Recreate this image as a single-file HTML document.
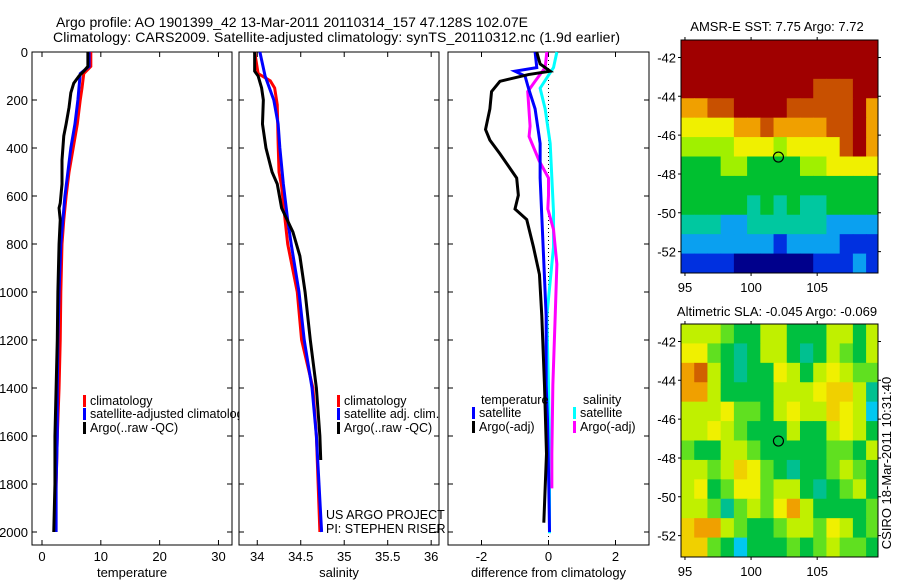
<!DOCTYPE html>
<html><head><meta charset="utf-8"><style>
body{margin:0;background:#fff}
svg{display:block;font-family:"Liberation Sans",sans-serif}
</style></head><body>
<svg id="fig" width="900" height="580" viewBox="0 0 900 580" xmlns="http://www.w3.org/2000/svg">
<defs>
<clipPath id="c1"><rect x="32" y="52" width="207" height="493"/></clipPath>
<clipPath id="cm1"><rect x="681" y="40" width="197" height="233"/></clipPath>
<clipPath id="cm2"><rect x="681" y="324" width="197" height="233"/></clipPath>
</defs>
<text x="56" y="27" font-size="14">Argo profile: AO 1901399_42 13-Mar-2011 20110314_157 47.128S 102.07E</text>
<text x="53" y="42" font-size="14" textLength="567">Climatology: CARS2009. Satellite-adjusted climatology: synTS_20110312.nc (1.9d earlier)</text>
<text x="777" y="31" font-size="13" text-anchor="middle">AMSR-E SST: 7.75 Argo: 7.72</text>
<text x="777" y="316" font-size="13" text-anchor="middle">Altimetric SLA: -0.045 Argo: -0.069</text>
<text transform="translate(891,463) rotate(-90)" font-size="13" text-anchor="middle">CSIRO 18-Mar-2011 10:31:40</text>
<g id="g"></g>
</svg>
<script>
// ---- depths (m) and profile data ----
const tClimD=[0,60,90,150,200,300,400,500,600,700,800,1000,1200,1400,1600,1800,2000];
const tClimV=[8.3,8.3,7.1,6.8,6.5,6.0,5.3,4.6,4.1,3.7,3.4,3.2,3.1,2.9,2.6,2.4,2.2];
const tSatD=[0,60,90,200,300,400,500,600,800,1000,1200,1400,1600,1800,2000];
const tSatV=[8.0,8.0,6.5,6.1,5.6,4.9,4.4,3.9,3.2,2.9,2.7,2.6,2.6,2.4,2.4];
const tArgD=[0,60,80,100,130,170,230,300,350,450,550,630,650,700,800,1000,1200,1400,1600,1800,2000];
const tArgV=[7.8,7.8,7.1,6.3,5.4,4.9,4.6,4.1,3.7,3.4,3.4,3.1,2.9,3.1,2.9,2.7,2.6,2.4,2.2,2.2,2.0];
const sClimD=[0,90,120,150,220,380,500,560,700,800,1000,1200,1400,1600,1800,2000];
const sClimV=[33.97,34.01,34.15,34.2,34.23,34.24,34.25,34.28,34.32,34.35,34.46,34.51,34.64,34.68,34.70,34.72];
const sSatD=[0,100,200,300,400,550,700,800,1000,1200,1400,1600,1800,2000];
const sSatV=[34.03,34.09,34.19,34.24,34.26,34.30,34.35,34.39,34.48,34.54,34.63,34.68,34.71,34.74];
const sArgD=[0,80,100,150,200,300,400,500,550,650,750,850,1000,1200,1400,1600,1700];
const sArgV=[33.97,33.97,34.01,34.05,34.07,34.06,34.10,34.17,34.23,34.28,34.41,34.49,34.55,34.61,34.68,34.72,34.73];
const dTSatD=[0,65,80,100,150,237,381,525,812,1100,1387,1530,1818,2000];
const dTSatV=[-0.4,-0.35,-1.0,-0.7,-0.6,-0.4,-0.25,-0.25,-0.16,-0.07,-0.07,-0.03,0.01,0.03];
const dTArgD=[0,50,80,94,122,165,237,323,367,424,525,597,654,698,812,927,1100,1387,1674,1961];
const dTArgV=[-0.35,-0.25,0.05,-0.6,-1.45,-1.7,-1.75,-1.88,-1.75,-1.45,-0.95,-0.9,-1.0,-0.65,-0.45,-0.27,-0.2,-0.12,-0.06,-0.14];
const dSSatD=[0,65,151,237,381,668,812,956,1100,1387,1674,2005];
const dSSatV=[0.25,0.15,-0.25,-0.1,0.05,0.15,0.15,0.05,-0.05,0,0.03,0.03];
const dSArgD=[0,65,122,165,309,352,453,525,597,654,740,884,1100,1387,1674,1818];
const dSArgV=[-0.05,-0.1,-0.4,-0.62,-0.55,-0.58,-0.28,0,0,-0.02,0.15,0.25,0.2,0.13,0.1,0.1];
const depthTicks=[0,200,400,600,800,1000,1200,1400,1600,1800,2000];
const tTicks=[0,10,20,30];
const sTicks=[34,34.5,35,35.5,36];
const sTickLabels=["34","34.5","35","35.5","36"];
const dTicks=[-2,0,2];
const latTicks=[-42,-44,-46,-48,-50,-52];
const lonTicks=[95,100,105];
// map grids: rows from -41.1 (top) in 1deg steps, cols from 94.7 in 1deg steps
const sstGrid=[
[9,9,9,9,9,9,9,9,9,9,9,9,9,9,9],
[9,9,9,9,9,9,9,9,9,9,9,9,9,9,9],
[9,9,9,9,9,9,9,9,9,9,8,8,8,9,9],
[7,7,8,8,9,9,9,9,8,8,8,8,8,9,7],
[6,6,6,6,7,7,8,7,7,7,7,8,8,9,7],
[5,5,5,5,6,6,6,5,6,6,6,6,8,9,7],
[4,4,4,5,5,4,4,4,4,5,5,6,6,6,6],
[4,4,4,4,4,4,4,4,4,4,4,4,4,4,4],
[4,4,4,4,4,3,4,3,4,3,3,4,4,4,4],
[3,3,3,2,2,3,3,3,3,3,3,2,2,2,2],
[2,2,2,2,2,2,2,1,2,2,2,2,1,1,1],
[1,1,1,1,0,0,0,0,0,0,1,1,1,2,1]];
const slaGrid=[
[4,4,4,3,2,2,4,4,2,2,2,4,4,2,4],
[5,5,3,2,1,2,4,4,2,1,2,4,3,2,4],
[7,8,4,2,1,2,2,5,4,2,4,5,4,3,3],
[7,7,4,2,2,2,2,4,4,4,5,6,6,4,1],
[4,4,4,5,3,3,2,4,5,4,4,6,5,4,0],
[4,4,5,4,3,2,2,2,4,2,2,4,5,4,2],
[3,2,2,4,4,3,2,2,2,2,2,3,3,2,4],
[4,4,3,4,6,5,3,2,1,2,2,3,4,3,2],
[4,5,2,3,5,5,3,4,4,2,1,2,3,4,2],
[4,4,3,1,3,4,3,5,7,4,2,2,2,2,3],
[6,7,7,4,3,2,2,3,4,4,3,5,4,2,3],
[6,6,3,2,0,2,2,2,3,2,3,4,3,3,2]];
const sstPal=["#00008c","#0030e0","#0aa0f0","#00c8a0","#00c030","#a0f000","#f0f000","#f0a000","#c85000","#a00000"];
const slaPal=["#00c8f0","#00c090","#00c040","#60e020","#c0f000","#f0f000","#f0d000","#f0a000","#d06000"];
const argoLon=102.07, argoLat=-47.128;

const NS="http://www.w3.org/2000/svg";
const G=document.getElementById('g');
function mk(tag,at,parent){const e=document.createElementNS(NS,tag);for(const k in at)e.setAttribute(k,at[k]);(parent||G).appendChild(e);return e;}
const yD=d=>52+d*0.24;
function panel(name,x0,x1,xmin,xmax,ticks,labels,xlabel,showDepth){
  const sx=v=>x0+(v-xmin)/(xmax-xmin)*(x1-x0);
  const fr=mk('rect',{x:x0,y:52,width:x1-x0,height:493,fill:'none',stroke:'#000','stroke-width':1});
  
  
  depthTicks.forEach(d=>{
    const y=yD(d);
    const t=mk('path',{d:`M${x0},${y}h5M${x1},${y}h-5`,stroke:'#000'});
    
    
    if(showDepth){const l=mk('text',{x:x0-4,y:y+5,'font-size':13,'text-anchor':'end'});l.textContent=d;
      
      }
  });
  ticks.forEach((v,i)=>{
    const x=sx(v);
    const t=mk('path',{d:`M${x},52v5M${x},545v-5`,stroke:'#000'});
    
    
    const l=mk('text',{x:x,y:561,'font-size':13,'text-anchor':'middle'});l.textContent=labels[i];
    
    
  });
  const xl=mk('text',{x:(x0+x1)/2,y:577,'font-size':13,'text-anchor':'middle'});xl.textContent=xlabel;
  
  
  return sx;
}
function line(sx,D,V,color,name){
  const p=mk('polyline',{points:D.map((d,i)=>sx(V[i])+','+yD(d)).join(' '),fill:'none',stroke:color,'stroke-width':3,'stroke-linejoin':'miter'});
  
  
}
function legend(x,y,color,text,clip,name){
  const r=mk('rect',{x:x,y:y-10,width:3,height:12,fill:color});
  
  
  const t=mk('text',{x:x+7,y:y,'font-size':12.5});t.textContent=text;
  if(clip)t.setAttribute('clip-path','url(#c1)');
  
  
}
// panel 1 temperature
const sx1=panel('temperature-panel',32,232,-1.7,32.3,tTicks,tTicks.map(String),'temperature',true);
line(sx1,tClimD,tClimV,'#f00','temp-climatology-line');
line(sx1,tSatD,tSatV,'#00f','temp-satellite-line');
line(sx1,tArgD,tArgV,'#000','temp-argo-line');
legend(83,405,'#f00','climatology',false,'legend-climatology');
legend(83,418,'#00f','satellite-adjusted climatology',true,'legend-satellite-adjusted');
legend(83,432,'#000','Argo(..raw -QC)',false,'legend-argo');
// panel 2 salinity
const sx2=panel('salinity-panel',239,439,33.79,36.09,sTicks,sTickLabels,'salinity',false);
line(sx2,sClimD,sClimV,'#f00','sal-climatology-line');
line(sx2,sSatD,sSatV,'#00f','sal-satellite-line');
line(sx2,sArgD,sArgV,'#000','sal-argo-line');
legend(337,405,'#f00','climatology',false,'legend-sal-climatology');
legend(337,418,'#00f','satellite adj. clim.',false,'legend-sal-satellite');
legend(337,432,'#000','Argo(..raw -QC)',false,'legend-sal-argo');
const n1=mk('text',{x:326,y:519,'font-size':12.5});n1.textContent='US ARGO PROJECT';


const n2=mk('text',{x:326,y:533,'font-size':12.5});n2.textContent='PI: STEPHEN RISER';


// panel 3 differences
const sx3=panel('difference-panel',448,649,-3,3,dTicks,dTicks.map(String),'difference from climatology',false);
const zl=mk('line',{x1:sx3(0),y1:52,x2:sx3(0),y2:545,stroke:'#000','stroke-dasharray':'1,3'});


line(sx3,dSSatD,dSSatV,'#0ff','diff-sal-satellite-line');
line(sx3,dSArgD,dSArgV,'#f0f','diff-sal-argo-line');
line(sx3,dTSatD,dTSatV,'#00f','diff-temp-satellite-line');
line(sx3,dTArgD,dTArgV,'#000','diff-temp-argo-line');
const lt=mk('text',{x:481,y:404,'font-size':12.5});lt.textContent='temperature';


const ls=mk('text',{x:583,y:404,'font-size':12.5});ls.textContent='salinity';


legend(472,417,'#00f','satellite',false,'legend-diff-temp-satellite');
legend(472,431,'#000','Argo(-adj)',false,'legend-diff-temp-argo');
legend(573,417,'#0ff','satellite',false,'legend-diff-sal-satellite');
legend(573,431,'#f0f','Argo(-adj)',false,'legend-diff-sal-argo');
// maps
function map(name,top,grid,pal,clip){
  const left=681,w=197,h=233,lon0=94.7,lon1=109.6,lat0=-41.1,lat1=-53.1;
  const mx=l=>left+(l-lon0)/(lon1-lon0)*w;
  const my=l=>top+(l-lat0)/(lat1-lat0)*h;
  const g=mk('g',{'clip-path':`url(#${clip})`});
  
  
  grid.forEach((row,r)=>row.forEach((v,c)=>{
    const x=mx(lon0+c),y=my(lat0-r);
    const cell=mk('rect',{x:x,y:y,width:mx(lon0+c+1)-x+0.5,height:my(lat0-r-1)-y+0.5,fill:pal[v]},g);
    
    
  }));
  const fr=mk('rect',{x:left,y:top,width:w,height:h,fill:'none',stroke:'#000'});
  
  
  latTicks.forEach(l=>{const y=my(l);
    const t=mk('path',{d:`M${left},${y}h-3M${left+w},${y}h3`,stroke:'#000'});
    
    
    const tx=mk('text',{x:left-5,y:y+5,'font-size':13,'text-anchor':'end'});tx.textContent=l;
    
    });
  lonTicks.forEach(l=>{const x=mx(l);
    const t=mk('path',{d:`M${x},${top}v-3M${x},${top+h}v3`,stroke:'#000'});
    
    
    const tx=mk('text',{x:x,y:top+h+19,'font-size':13,'text-anchor':'middle'});tx.textContent=l;
    
    });
  const c=mk('circle',{cx:mx(argoLon),cy:my(argoLat),r:5,fill:'none',stroke:'#000','stroke-width':1.2});
  
  
}
map('sst-map',40,sstGrid,sstPal,'cm1');
map('sla-map',324,slaGrid,slaPal,'cm2');
</script>
</body></html>
